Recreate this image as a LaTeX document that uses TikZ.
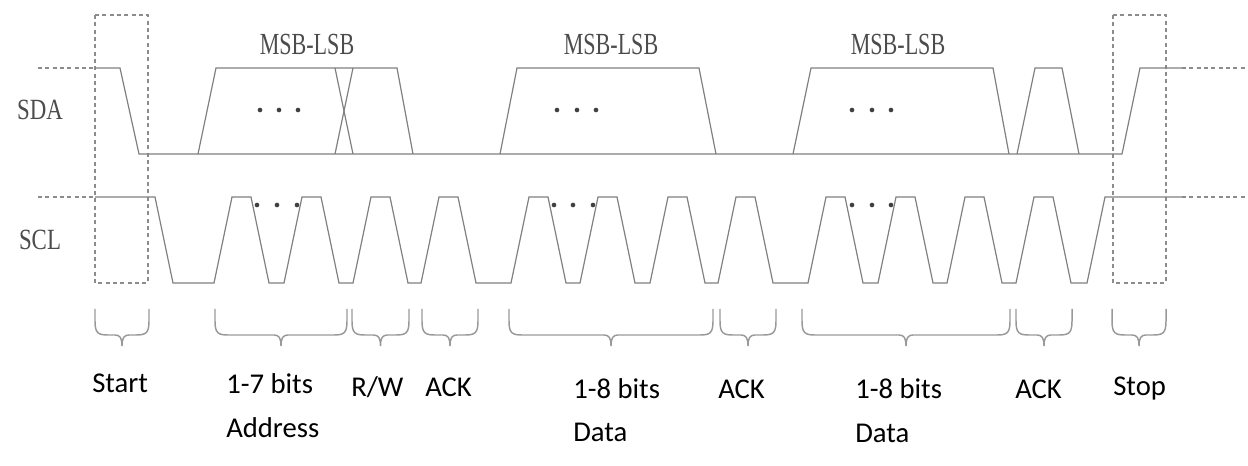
\documentclass[tikz,border=0pt]{standalone}
\usepackage{fontspec}
\setmainfont{Liberation Serif}
\newfontfamily\lblfont{Carlito}
\begin{document}
\begin{tikzpicture}[x=0.75pt,y=-0.75pt,
  wave/.style={draw=black!50,line width=0.9pt,line join=miter},
  guide/.style={draw=black!45,dashed,line width=0.8pt,dash pattern=on 3pt off 2.5pt},
  brc/.style={draw=black!40,line width=1.1pt},
  sig/.style={text=black!70,font=\fontsize{22}{24}\selectfont},
  msb/.style={text=black!70,font=\fontsize{23}{25}\selectfont},
  lbl/.style={text=black,font=\lblfont\fontsize{21.5}{23}\selectfont,anchor=west,inner sep=0pt},
  dot/.style={fill=black!75,circle,inner sep=0pt,minimum size=3.5pt}]
\useasboundingbox (0,0) rectangle (1248,466);
% dashed boxes and guides
\draw[guide] (95,15) rectangle (148,283);
\draw[guide] (1113,15) rectangle (1166,283);
\draw[guide] (38,68) -- (95,68);
\draw[guide] (38,197) -- (95,197);
\draw[guide] (1182,68) -- (1248,68);
\draw[guide] (1182,197) -- (1248,197);
% SDA
\draw[wave] (95,68) -- (120,68) -- (139,154) -- (1122,154) -- (1140,68) -- (1182,68);
\draw[wave] (198,154) -- (216,68) -- (397,68) -- (413,154);
\draw[wave] (335,68) -- (353,154);
\draw[wave] (335,154) -- (353,68);
\draw[wave] (500,154) -- (517,68) -- (699,68) -- (716,154);
\draw[wave] (793,154) -- (811,68) -- (993,68) -- (1009,154);
\draw[wave] (1017,154) -- (1035,68) -- (1062,68) -- (1079,154);
% SCL
\draw[wave] (95,197) -- (155,197) -- (173,283)
  foreach \t in {232,302,371,439,529,598,668,736,826,896,965,1034}
  { -- ({\t-18},283) -- (\t,197) -- ({\t+19},197) -- ({\t+37},283) }
  -- (1087,283) -- (1105,197) -- (1182,197);
% dots
\foreach \x in {260,279,298,557,577,596,852,872,891} \node[dot] at (\x,110) {};
\foreach \x in {257,277,297,554,573,593,852,872,891} \node[dot] at (\x,205) {};
% signal names
\node[sig] (sda) at (40,110) {\scalebox{0.78}[1]{SDA}};
\node[sig] (scl) at (40,240) {\scalebox{0.78}[1]{SCL}};
\node[msb] (m1) at (307,45) {\scalebox{0.72}[1]{MSB-LSB}};
\node[msb] (m2) at (611,45) {\scalebox{0.72}[1]{MSB-LSB}};
\node[msb] (m3) at (898,45) {\scalebox{0.72}[1]{MSB-LSB}};
% braces
\foreach \a/\b in {95/149,215/347,352/409,422/478,509/713,720/776,802/1010,1016/1072,1112/1166}{
  \pgfmathsetmacro\m{(\a+\b)/2}
  \draw[brc] (\a,309) -- (\a,321) .. controls (\a,333) and ({\a+3},335) .. ({\a+13},335)
    -- ({\m-7},335) .. controls ({\m-2},335) and (\m,338) .. (\m,346)
    .. controls (\m,338) and ({\m+2},335) .. ({\m+7},335)
    -- ({\b-13},335) .. controls ({\b-3},335) and (\b,333) .. (\b,321) -- (\b,309);
}
% labels
\node[lbl] (l1) at (92,383) {Start};
\node[lbl] (l2) at (226,384) {1-7 bits};
\node[lbl] (l3) at (226,428) {Address};
\node[lbl] (l4) at (351,387) {R/W};
\node[lbl] (l5) at (425,387) {ACK};
\node[lbl] (l6) at (573,389) {1-8 bits};
\node[lbl] (l7) at (573,432) {Data};
\node[lbl] (l8) at (718,389) {ACK};
\node[lbl] (l9) at (855,389) {1-8 bits};
\node[lbl] (l10) at (855,433) {Data};
\node[lbl] (l11) at (1015,389) {ACK};
\node[lbl] (l12) at (1113,389) {Stop};
\end{tikzpicture}
\end{document}
